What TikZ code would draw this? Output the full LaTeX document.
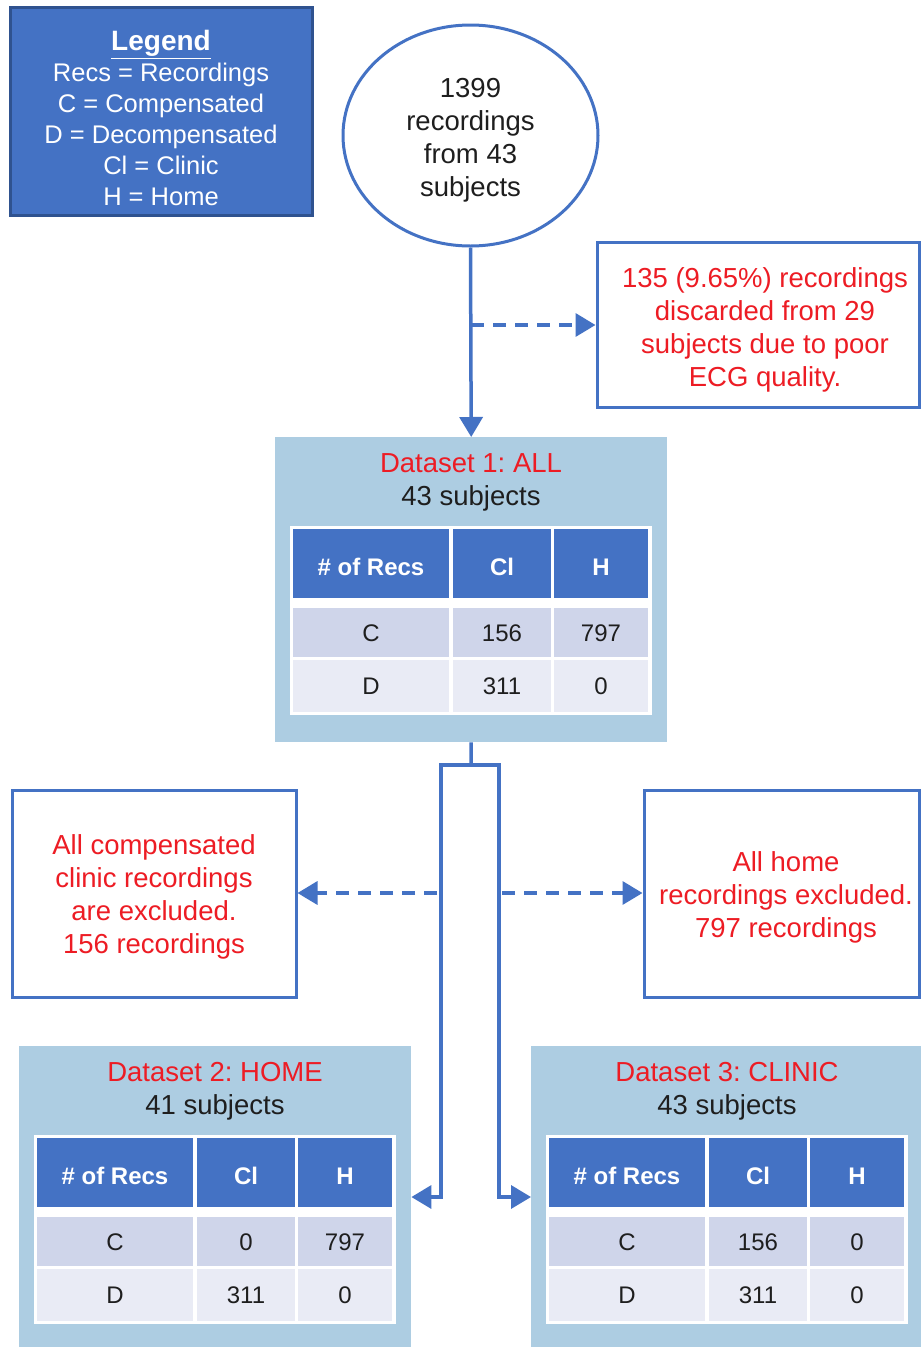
\documentclass[tikz,border=0pt]{standalone}
\usepackage{fontspec}
\setmainfont{Liberation Sans}
\usetikzlibrary{arrows.meta,shapes.geometric}
\frenchspacing
\definecolor{mblue}{RGB}{68,114,196}
\definecolor{mborder}{RGB}{47,82,143}
\definecolor{dsbg}{RGB}{173,205,226}
\definecolor{rowc}{RGB}{207,213,234}
\definecolor{rowd}{RGB}{233,235,245}
\definecolor{mred}{RGB}{237,28,36}
\definecolor{mtext}{RGB}{30,30,30}
\newcommand\bigf{\fontsize{27.5}{33}\selectfont}
\newcommand\tabf{\fontsize{24}{28}\selectfont}
\newcommand\legf{\fontsize{25.5}{31}\selectfont}
\tikzset{
 conn/.style={draw=mblue, line width=3.5pt, line join=miter},
 tip/.style={-{Triangle[length=20pt,width=23pt]}},
 dashconn/.style={conn, dash pattern=on 13pt off 9pt},
 outbox/.style={draw=mblue, line width=3pt, fill=white, inner sep=0pt},
 redtxt/.style={text=mred, font=\bigf, align=center},
 dsbox/.style={fill=dsbg, inner sep=0pt, anchor=north west},
 cellbase/.style={inner sep=0pt, text height=17.2pt, text depth=0pt},
 hcell/.style={cellbase, text height=24pt, fill=mblue, text=white, font=\tabf\bfseries},
 ccell/.style={cellbase, fill=rowc, text=mtext, font=\tabf},
 dcell/.style={cellbase, fill=rowd, text=mtext, font=\tabf},
}
\newcommand\dsblock[9]{%
\begin{scope}[shift={(#2,#3)}]
\node[dsbox, minimum width=392pt, minimum height=#4pt] (#1box) at (0,0) {};
\node[redtxt] (#1title) at (196,26) {#5};
\node[text=mtext, font=\bigf] (#1subj) at (196,61) {#6};
\node[fill=white, inner sep=0pt, minimum width=362pt, minimum height=189pt, anchor=north west] (#1tab) at (15,89) {};
\node[hcell, minimum width=156pt, minimum height=69pt] (#1h1) at (96,126.5) {\# of Recs};
\node[hcell, minimum width=98pt, minimum height=69pt] (#1h2) at (227,126.5) {Cl};
\node[hcell, minimum width=94pt, minimum height=69pt] (#1h3) at (326,126.5) {H};
\node[ccell, minimum width=156pt, minimum height=49pt] (#1c1) at (96,195.5) {C};
\node[ccell, minimum width=98pt, minimum height=49pt] (#1c2) at (227,195.5) {#7};
\node[ccell, minimum width=94pt, minimum height=49pt] (#1c3) at (326,195.5) {#8};
\node[dcell, minimum width=156pt, minimum height=52pt] (#1d1) at (96,249) {D};
\node[dcell, minimum width=98pt, minimum height=52pt] (#1d2) at (227,249) {#9};
\node[dcell, minimum width=94pt, minimum height=52pt] (#1d3) at (326,249) {0};
\end{scope}}
\begin{document}
\begin{tikzpicture}[x=1pt,y=-1pt]
\useasboundingbox (0,0) rectangle (921,1347);
\fill[white] (0,0) rectangle (921,1347);
% legend
\node[fill=mblue, draw=mborder, line width=3pt, inner sep=0pt, minimum width=302pt, minimum height=208pt] (legend) at (161,111) {};
\node[text=white, font=\legf, align=center] (legtxt) at (161,118)
 {{\fontsize{28}{31}\selectfont\bfseries\underline{Legend}}\\Recs = Recordings\\C = Compensated\\D = Decompensated\\Cl = Clinic\\H = Home};
% source ellipse
\node[draw=mblue, line width=3pt, fill=white, ellipse, minimum width=255pt, minimum height=221pt, inner sep=0pt] (src) at (470.5,135.5) {};
\node[font=\bigf, align=center, text=mtext] (srctxt) at (470.5,140.5) {1399\\recordings\\from 43\\subjects};
% discard box
\node[outbox, minimum width=322.5pt, minimum height=165pt] (disc) at (758.25,324.5) {};
\node[redtxt] (disctxt) at (765,329.5) {135 (9.65\%) recordings\\discarded from 29\\subjects due to poor\\ECG quality.};
% datasets
\dsblock{dsa}{275}{437}{305}{Dataset 1: ALL}{43 subjects}{156}{797}{311}
\dsblock{dsb}{19}{1046}{310}{Dataset 2: HOME}{41 subjects}{0}{797}{311}
\dsblock{dsc}{531}{1046}{310}{Dataset 3: CLINIC}{43 subjects}{156}{0}{311}
% exclusion boxes
\node[outbox, minimum width=284pt, minimum height=207pt] (exa) at (154,893.5) {};
\node[redtxt] (exatxt) at (154,897) {All compensated\\clinic recordings\\are excluded.\\156 recordings};
\node[outbox, minimum width=275.5pt, minimum height=207pt] (exb) at (781.75,893.5) {};
\node[redtxt] (exbtxt) at (786,897.5) {All home\\recordings excluded.\\797 recordings};
% connectors
\draw[conn, tip] (src.south) -- (dsabox.north);
\coordinate (d0) at (471,325);
\draw[dashconn, tip] (d0) -- (d0 -| disc.west);
\coordinate (j) at (471,765);
\coordinate (jl) at (441,765);
\coordinate (jr) at (499,765);
\coordinate (al) at (441,1197);
\coordinate (ar) at (499,1197);
\draw[conn] (dsabox.south) -- (j);
\draw[conn, tip] (j) -- (jl) -- (al) -- (al -| dsbbox.east);
\draw[conn, tip] (j) -- (jr) -- (ar) -- (ar -| dscbox.west);
\coordinate (el) at (437,893);
\coordinate (er) at (502,893);
\draw[dashconn, tip] (el) -- (el -| exa.east);
\draw[dashconn, tip] (er) -- (er -| exb.west);
\end{tikzpicture}
\end{document}
